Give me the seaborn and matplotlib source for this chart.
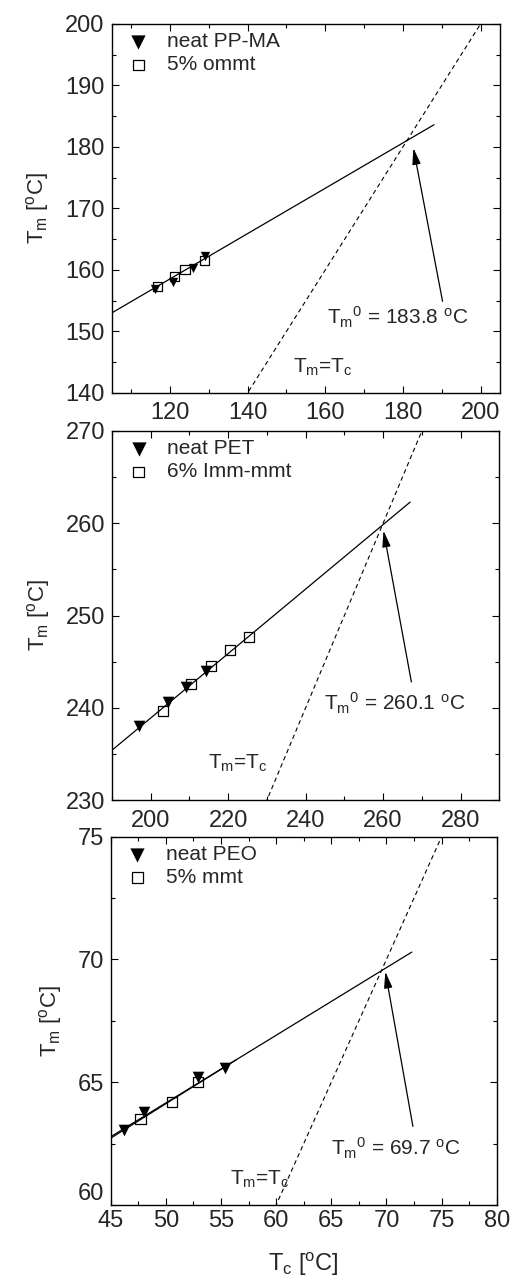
import numpy as np
import pandas as pd
import matplotlib
matplotlib.use("Agg")
import matplotlib.pyplot as plt
import seaborn as sns

sns.set_style("ticks")
plt.rcParams["font.family"] = ["Liberation Sans", "DejaVu Sans"]
plt.rcParams["mathtext.default"] = "regular"
plt.rcParams["axes.linewidth"] = 1.0

# ── Data ──────────────────────────────────────────────────────────────────
# panel 1: PP-MA
pp_neat_tc = [116.2, 120.7, 126.0, 129.0]
pp_neat_tm = [156.9, 158.1, 160.3, 162.2]
pp_clay_tc = [116.8, 121.1, 123.9, 128.9]
pp_clay_tm = [157.3, 158.9, 160.1, 161.5]
pp_fit_x = [105, 188]
pp_fit_y = [153.0, 183.6]

# panel 2: PET
pet_neat_tc = [197.0, 204.5, 209.0, 214.2]
pet_neat_tm = [238.0, 240.6, 242.3, 244.0]
pet_clay_tc = [203.2, 210.5, 215.5, 220.4, 225.3]
pet_clay_tm = [239.6, 242.6, 244.5, 246.3, 247.7]
pet_fit_x = [190, 267]
pet_fit_y = [235.4, 262.3]

# panel 3: PEO
peo_neat_tc = [46.2, 48.0, 52.9, 55.4]
peo_neat_tm = [63.05, 63.8, 65.2, 65.56]
peo_clay_tc = [47.7, 50.6, 52.9]
peo_clay_tm = [63.5, 64.2, 65.0]
peo_fit_x = [45, 72.3]
peo_fit_y = [62.78, 70.3]
peo_fit2_x = [45, 56.4]
peo_fit2_y = [62.72, 65.92]

panels = [
    dict(neat=(pp_neat_tc, pp_neat_tm), clay=(pp_clay_tc, pp_clay_tm),
         fits=[(pp_fit_x, pp_fit_y)], labels=("neat PP-MA", "5% ommt"),
         xlim=(105, 205), ylim=(140, 200), xmaj=20, xmin=10, ymaj=10, ymin=5,
         tm0="183.8", tip=(182.7, 179.8), tail=(190.2, 154.9), txt=(160.4, 151.1),
         eq=(151.6, 143.3), ms=(45, 45),
         rect=[0.2173, 0.6923, 0.7555, 0.2890], xpad=6.5),
    dict(neat=(pet_neat_tc, pet_neat_tm), clay=(pet_clay_tc, pet_clay_tm),
         fits=[(pet_fit_x, pet_fit_y)], labels=("neat PET", "6% Imm-mmt"),
         xlim=(190, 290), ylim=(230, 270), xmaj=20, xmin=10, ymaj=10, ymin=5,
         tm0="260.1", tip=(260.1, 259.2), tail=(267.3, 242.8), txt=(244.8, 239.7),
         eq=(214.8, 233.4), ms=(70, 52),
         rect=[0.2179, 0.3735, 0.7535, 0.2890], xpad=7),
    dict(neat=(peo_neat_tc, peo_neat_tm), clay=(peo_clay_tc, peo_clay_tm),
         fits=[(peo_fit_x, peo_fit_y), (peo_fit2_x, peo_fit2_y)],
         labels=("neat PEO", "5% mmt"),
         xlim=(45, 80), ylim=(60, 75), xmaj=5, xmin=2.5, ymaj=5, ymin=2.5,
         tm0="69.7", tip=(69.9, 69.5), tail=(72.4, 63.2), txt=(65.0, 62.0),
         eq=(55.8, 60.84), ms=(70, 52),
         rect=[0.2154, 0.0564, 0.7510, 0.2884], xpad=3.5),
]

fig = plt.figure(figsize=(5.14, 12.77), dpi=100)
axes = []

for i, p in enumerate(panels):
    ax = fig.add_axes(p["rect"])
    axes.append(ax)
    lo, hi = p["xlim"]

    # Tm = Tc line
    ax.plot([lo, hi], [lo, hi], ls=(0, (4, 3)), color="black", lw=0.8)

    for fx, fy in p["fits"]:
        sns.lineplot(x=fx, y=fy, ax=ax, color="black", lw=0.9,
                     estimator=None, sort=False)

    sns.scatterplot(x=p["neat"][0], y=p["neat"][1], ax=ax, marker="v",
                    s=p["ms"][0], color="black", linewidth=0, label=p["labels"][0])
    sns.scatterplot(x=p["clay"][0], y=p["clay"][1], ax=ax, marker="s",
                    s=p["ms"][1], facecolors="none", edgecolor="black",
                    linewidth=0.9, label=p["labels"][1])

    ax.set_xlim(p["xlim"]); ax.set_ylim(p["ylim"])
    ax.xaxis.set_major_locator(matplotlib.ticker.MultipleLocator(p["xmaj"]))
    ax.xaxis.set_minor_locator(matplotlib.ticker.MultipleLocator(p["xmin"]))
    ax.yaxis.set_major_locator(matplotlib.ticker.MultipleLocator(p["ymaj"]))
    ax.yaxis.set_minor_locator(matplotlib.ticker.MultipleLocator(p["ymin"]))
    ax.tick_params(which="both", direction="in", top=True, right=True,
                   width=0.8, labelsize=17, color="black")
    ax.tick_params(which="major", length=5)
    ax.tick_params(which="minor", length=3)
    ax.tick_params(axis="x", pad=p["xpad"])
    ax.tick_params(axis="y", pad=5)
    for s in ax.spines.values():
        s.set_color("black")

    ax.set_ylabel("T$_m$ [$^o$C]", fontsize=16, labelpad=10)

    ax.annotate("", xy=p["tip"], xytext=p["tail"],
                arrowprops=dict(arrowstyle="-|>,head_length=0.7,head_width=0.18",
                                color="black", lw=0.9, mutation_scale=14,
                                shrinkA=0, shrinkB=0))
    ax.text(p["txt"][0], p["txt"][1], "T$_m$$^{ 0}$ = " + p["tm0"] + " $^o$C",
            fontsize=15, ha="left", va="baseline")
    ax.text(p["eq"][0], p["eq"][1], "T$_m$=T$_c$", fontsize=15,
            ha="left", va="baseline")

    leg = ax.legend(loc="upper left", frameon=False, fontsize=15,
                    borderpad=0.4, borderaxespad=0, handlelength=1.76,
                    handletextpad=0.48, labelspacing=0.2, scatterpoints=1)
    hs = leg.legend_handles
    hs[0].set_sizes([105])
    hs[1].set_sizes([60])

    if i == 2:
        ax.set_xlabel("T$_c$ [$^o$C]", fontsize=17, labelpad=14)
    else:
        ax.set_xlabel("")

# lowest y label of the bottom panel sits just above the corner, as in the original
fig.canvas.draw()
for lbl in axes[2].get_yticklabels():
    if lbl.get_text() == "60":
        lbl.set_verticalalignment("bottom")

fig.savefig("out.png", dpi=100)
